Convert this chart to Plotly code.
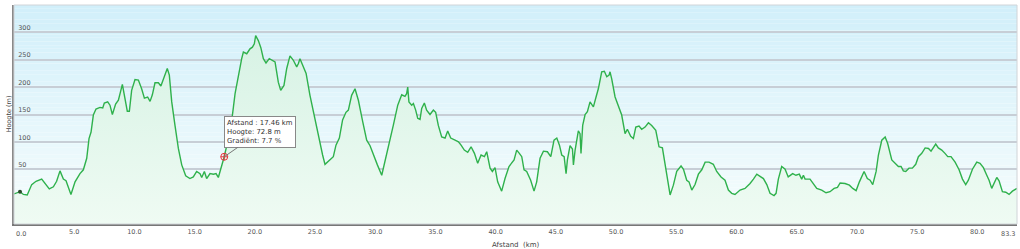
import plotly.graph_objects as go

# ---- data ----
KM = [0, 0.5, 0.78, 1.1, 1.47, 1.83, 2.3, 2.44, 2.93, 3.27, 3.54, 3.82, 4.1, 4.32, 4.73, 5.07, 5.48, 5.76,
      6.04, 6.23, 6.4, 6.59, 6.81, 7.14, 7.37, 7.5, 7.78, 7.97, 8.17, 8.44, 8.67, 9.0, 9.22, 9.41, 9.58, 9.77,
      10.05, 10.33, 10.6, 10.83, 11.1, 11.3, 11.49, 11.71, 11.99, 12.2, 12.48, 12.73, 12.9, 13.1, 13.37, 13.65,
      13.93, 14.26, 14.61, 14.89, 15.17, 15.45, 15.59, 15.81, 16.0, 16.28, 16.56, 16.78, 16.97, 17.2, 17.46,
      17.8, 18.14, 18.36, 18.64, 18.91, 19.05, 19.33, 19.6, 19.8, 19.96, 20.07, 20.29, 20.5, 20.71, 20.93,
      21.2, 21.4, 21.68, 21.95, 22.15, 22.42, 22.65, 22.92, 23.2, 23.48, 23.62, 23.75, 23.98, 24.26, 24.58,
      24.86, 25.14, 25.41, 25.63, 25.83, 26.25, 26.52, 26.74, 27.02, 27.29, 27.57, 27.77, 28.04, 28.32, 28.6,
      28.96, 29.29, 29.57, 29.85, 30.18, 30.54, 30.81, 31.09, 31.5, 31.87, 32.2, 32.47, 32.61, 32.7, 32.8,
      33.03, 33.17, 33.36, 33.53, 33.72, 33.86, 34.08, 34.27, 34.55, 34.83, 35.02, 35.24, 35.52, 35.8, 36.02,
      36.27, 36.63, 36.91, 37.13, 37.4, 37.68, 37.96, 38.24, 38.51, 38.79, 39.07, 39.26, 39.54, 39.73, 39.95,
      40.17, 40.5, 40.78, 41.11, 41.53, 41.75, 41.97, 42.17, 42.36, 42.58, 42.91, 43.19, 43.41, 43.69, 43.97,
      44.3, 44.58, 44.85, 45.08, 45.3, 45.49, 45.69, 45.85, 45.96, 46.18, 46.38, 46.46, 46.6, 46.87, 47.01,
      47.09, 47.23, 47.43, 47.62, 47.84, 48.12, 48.34, 48.53, 48.81, 49.03, 49.23, 49.42, 49.5, 49.64, 49.92,
      50.2, 50.47, 50.75, 50.94, 51.22, 51.44, 51.64, 51.91, 52.13, 52.41, 52.69, 52.96, 53.3, 53.57, 53.85,
      54.13, 54.49, 54.76, 55.04, 55.4, 55.6, 55.87, 56.06, 56.29, 56.56, 56.84, 57.12, 57.4, 57.72, 58.08,
      58.36, 58.72, 59.05, 59.33, 59.61, 59.88, 60.3, 60.71, 61.13, 61.41, 61.69, 61.96, 62.24, 62.52, 62.79,
      63.12, 63.29, 63.48, 63.76, 64.04, 64.3, 64.67, 64.94, 65.22, 65.42, 65.56, 65.7, 66.11, 66.39, 66.67,
      67.08, 67.44, 67.77, 68.11, 68.39, 68.61, 69.02, 69.38, 69.66, 69.94, 70.21, 70.6, 70.87, 71.1, 71.32,
      71.6, 71.79, 72.07, 72.35, 72.56, 72.9, 73.17, 73.45, 73.67, 73.86, 74.06, 74.33, 74.61, 74.89, 75.11,
      75.39, 75.67, 75.95, 76.16, 76.36, 76.55, 76.77, 77.05, 77.32, 77.55, 77.82, 78.16, 78.49, 78.77, 79.04,
      79.26, 79.6, 79.96, 80.23, 80.51, 80.79, 80.98, 81.2, 81.42, 81.62, 81.81, 82.09, 82.37, 82.64, 82.92,
      83.2, 83.3]
ELEV = [5, 9, 4, 3, 22, 28, 32, 28, 14, 18, 28, 47, 32, 29, 4, 27, 42, 49,
        70, 106, 118, 149, 160, 163, 162, 171, 173, 167, 150, 169, 176, 205, 182, 156, 156, 194,
        214, 213, 197, 180, 182, 174, 186, 208, 208, 202, 219, 234, 222, 173, 130, 88,
        58, 38, 33, 36, 46, 42, 35, 46, 33, 42, 41, 42, 35, 52, 72.8,
        106, 149, 188, 222, 252, 264, 261, 270, 273, 279, 294, 285, 272, 252, 244,
        252, 249, 246, 209, 194, 203, 234, 257, 249, 237, 243, 252, 240, 225, 185,
        155, 131, 100, 76, 59, 67, 73, 94, 107, 140, 154, 158, 185, 197, 176,
        137, 103, 93, 76, 58, 39, 63, 88, 130, 167, 186, 183, 188, 200, 173,
        167, 170, 158, 143, 141, 161, 171, 158, 150, 158, 154, 130, 109, 107, 120,
        107, 103, 100, 94, 85, 81, 91, 79, 61, 76, 73, 82, 52, 46, 53,
        27, 10, 33, 55, 67, 85, 79, 73, 49, 46, 30, 10, 27, 70, 83,
        82, 73, 103, 107, 94, 76, 73, 42, 67, 93, 87, 58, 85, 120, 115,
        79, 130, 150, 155, 173, 164, 182, 197, 228, 229, 219, 222, 228, 215, 182,
        164, 149, 115, 123, 110, 106, 127, 129, 123, 127, 135, 130, 121, 91, 89,
        52, 3, 21, 46, 56, 50, 30, 27, 12, 22, 41, 49, 63, 63, 59,
        46, 36, 30, 12, 6, 4, 12, 15, 24, 32, 41, 37, 33, 22, 6,
        2, 6, 32, 55, 50, 36, 42, 39, 41, 32, 39, 32, 32, 24, 15,
        12, 7, 9, 15, 17, 25, 24, 21, 15, 11, 27, 46, 33, 30, 22,
        46, 76, 103, 109, 97, 67, 61, 55, 55, 47, 46, 52, 52, 59, 73,
        79, 89, 88, 83, 89, 96, 89, 85, 79, 73, 73, 63, 49, 32, 22,
        30, 50, 63, 61, 53, 39, 30, 15, 26, 35, 29, 9, 8, 4, 10,
        14, 15]

Y_MIN, Y_MAX = -50, 350
X_MAX = 83.3
GRID_VALS = [0, 50, 100, 150, 200, 250, 300]
GRID_TEXT = ["", "50", "100", "150", "200", "250", "300"]
X_TICKS = [5, 10, 15, 20, 25, 30, 35, 40, 45, 50, 55, 60, 65, 70, 75, 80]
X_TICKTEXT = ["5.0", "10.0", "15.0", "20.0", "25.0", "30.0", "35.0", "40.0", "45.0", "50.0",
              "55.0", "60.0", "65.0", "70.0", "75.0", "80.0"]
SEL_KM, SEL_ELEV, SEL_GRAD = 17.46, 72.8, 7.7
START_KM, START_ELEV = 0.5, 9

FONT = "DejaVu Sans"

fig = go.Figure()

# baseline for the filled area (axis minimum)
fig.add_trace(go.Scatter(x=[KM[0], KM[-1]], y=[Y_MIN, Y_MIN], mode="lines",
                         line=dict(width=0), hoverinfo="skip", showlegend=False))
fig.add_trace(go.Scatter(
    x=KM, y=ELEV, mode="lines", fill="tonexty",
    line=dict(color="#2fb14c", width=1.4),
    fillgradient=dict(type="vertical", start=Y_MIN, stop=300,
                      colorscale=[[0, "#effbf3"], [1, "#d6f2e4"]]),
    showlegend=False))

# start marker
fig.add_trace(go.Scatter(x=[START_KM], y=[START_ELEV], mode="markers",
                         marker=dict(color="#2a4a2a", size=4), showlegend=False))
# selected point marker
fig.add_trace(go.Scatter(x=[SEL_KM], y=[SEL_ELEV], mode="markers",
                         marker=dict(symbol="circle-cross-open", color="#e8303a", size=7,
                                     line=dict(width=1)),
                         showlegend=False))

# background gradient (plot area)
N = 60
top = (209, 239, 250)
bot = (247, 253, 253)
shapes = []
for i in range(N):
    t0 = i / N
    t1 = (i + 1) / N
    t = (t0 + t1) / 2
    c = tuple(int(round(bot[k] + (top[k] - bot[k]) * t)) for k in range(3))
    shapes.append(dict(type="rect", xref="paper", yref="paper", x0=0, x1=1, y0=t0, y1=t1,
                       fillcolor="rgb(%d,%d,%d)" % c, line=dict(width=0), layer="below"))
shapes.append(dict(type="rect", xref="paper", yref="paper", x0=0, x1=1, y0=0, y1=1,
                   line=dict(color="#d0d4d8", width=1), layer="above"))

annotations = [
    dict(x=SEL_KM, y=SEL_ELEV, xref="x", yref="y",
         text="Afstand : %.2f km<br>Hoogte: %.1f m<br>Gradiënt: %.1f %%" % (SEL_KM, SEL_ELEV, SEL_GRAD),
         showarrow=True, arrowhead=0, arrowwidth=1, arrowcolor="#777777",
         ax=36, ay=-25, align="left", bgcolor="white", bordercolor="#888888",
         borderwidth=1, borderpad=2, font=dict(family=FONT, size=6.9, color="#333333")),
    dict(x=0, y=0, xref="x", yref="paper", text="0.0", showarrow=False, xanchor="left",
         yanchor="top", yshift=-4, font=dict(family=FONT, size=6.5, color="#555555")),
    dict(x=X_MAX, y=0, xref="x", yref="paper", text="83.3", showarrow=False, xanchor="right",
         yanchor="top", yshift=-4, font=dict(family=FONT, size=6.5, color="#555555")),
    dict(x=0, y=0.5, xref="paper", yref="paper", text="Hoogte (m)", showarrow=False,
         textangle=-90, xanchor="center", xshift=-6,
         font=dict(family=FONT, size=6.5, color="#444444")),
    dict(x=0.5, y=0, xref="paper", yref="paper", text="Afstand &nbsp;(km)", showarrow=False,
         xanchor="center", yanchor="top", yshift=-15,
         font=dict(family=FONT, size=7, color="#444444")),
]

fig.update_layout(
    width=1020, height=249,
    margin=dict(l=14, r=3, t=5, b=25),
    paper_bgcolor="white", plot_bgcolor="rgba(0,0,0,0)",
    showlegend=False, shapes=shapes, annotations=annotations,
    font=dict(family=FONT, size=6.5, color="#555555"),
)
fig.update_xaxes(range=[0, X_MAX], tickvals=X_TICKS, ticktext=X_TICKTEXT, showgrid=False,
                 zeroline=False, showline=True, linecolor="#777777", linewidth=1.5,
                 ticks="", tickfont=dict(family=FONT, size=6.5, color="#555555"))
fig.update_yaxes(range=[Y_MIN, Y_MAX], tickvals=GRID_VALS, ticktext=GRID_TEXT,
                 ticklabelposition="inside top", ticklabelstandoff=2,
                 showgrid=True, gridcolor="#c7ced6", gridwidth=1.5,
                 zeroline=False, showline=True, linecolor="#8a8a8a", linewidth=1.5,
                 ticks="", tickfont=dict(family=FONT, size=6.5, color="#555555"))

fig.write_html("out.html")
